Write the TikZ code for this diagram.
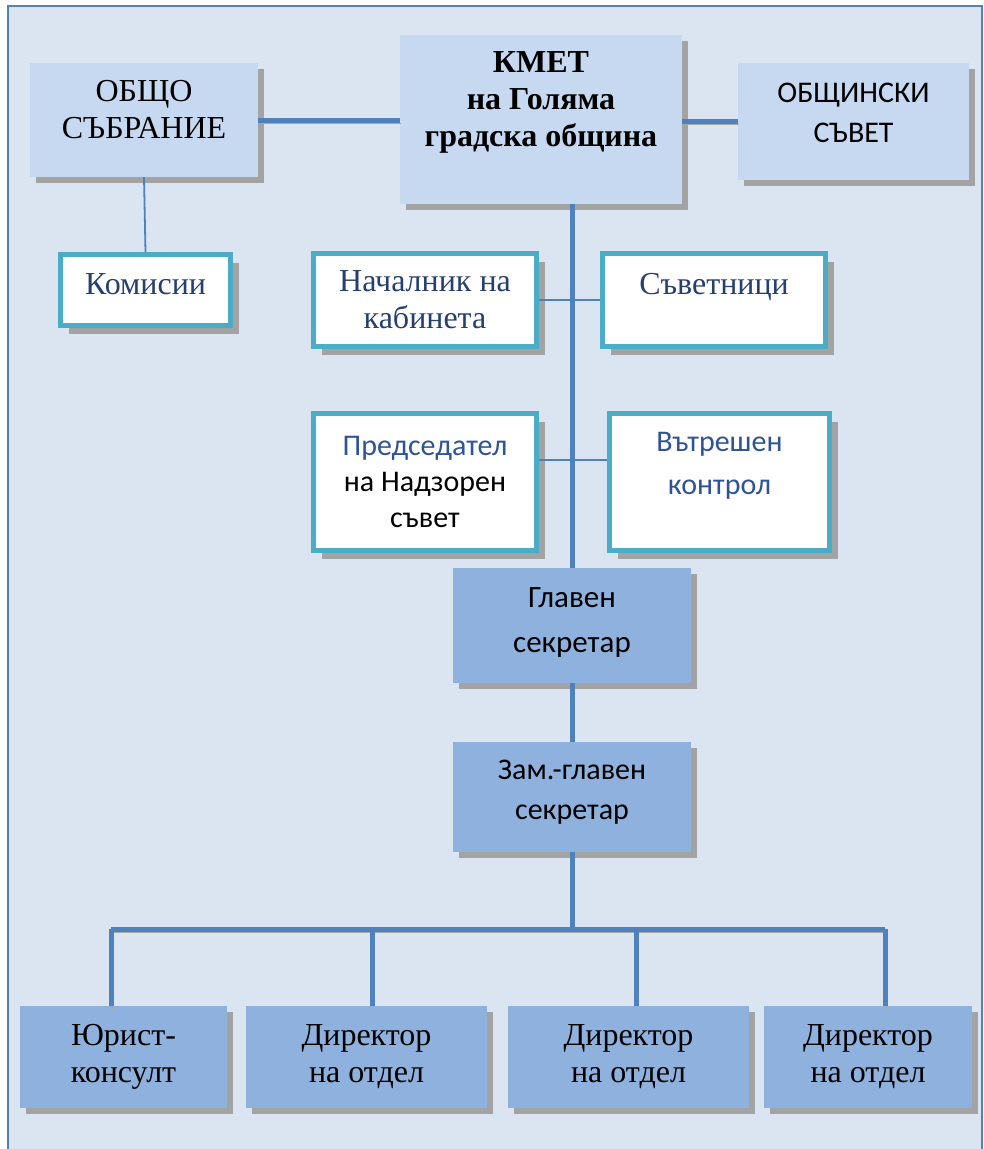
\documentclass[tikz,border=0pt]{standalone}
\usepackage{fontspec}
\setmainfont{Liberation Serif}
\newfontfamily\calibri{Carlito}
\usetikzlibrary{shadows}

\definecolor{framebg}{HTML}{DBE5F1}
\definecolor{lineblue}{HTML}{4F81BD}
\definecolor{topfill}{HTML}{C6D9F0}
\definecolor{lowfill}{HTML}{8EB2DD}
\definecolor{tealedge}{HTML}{4BACC6}
\definecolor{darktext}{HTML}{243F70}
\definecolor{midtext}{HTML}{2F5496}

\tikzset{
  boxshadow/.style={drop shadow={shadow xshift=#1,shadow yshift=-#1,fill=black!36,opacity=1}},
  boxshadow/.default=6pt,
  topbox/.style={fill=topfill,boxshadow,inner sep=0pt},
  lowbox/.style={fill=lowfill,boxshadow,inner sep=0pt},
  whitebox/.style={fill=white,draw=tealedge,line width=5pt,boxshadow=8pt,inner sep=0pt},
  seriftxt/.style={align=center,font=\fontsize{32}{37}\selectfont},
  sanstxt/.style={align=center,font=\calibri\fontsize{30}{40}\selectfont},
  conn/.style={draw=lineblue,line width=5pt,
    preaction={draw=black!34,transform canvas={xshift=1pt,yshift=-3pt}}},
  thinconn/.style={draw=lineblue,line width=1.8pt},
}

\begin{document}
\begin{tikzpicture}[x=1pt,y=-1pt]
    \useasboundingbox (0,0) rectangle (984,1149);
    \draw[fill=framebg,draw=lineblue,line width=2.5pt] (8,6) rectangle (982,1170);

    % top row
    \node[topbox,minimum width=228,minimum height=114] (obshto) at (144,120) {};
    \node[seriftxt] (obshto-t) at ([yshift=10pt]obshto.center) {ОБЩО\\СЪБРАНИЕ};
    \node[topbox,minimum width=282,minimum height=169] (kmet) at (541,119.5) {};
    \node[seriftxt,font=\bfseries\fontsize{32}{37}\selectfont] (kmet-t)
        at ([yshift=17pt]kmet.center) {КМЕТ\\на Голяма\\градска община};
    \node[topbox,minimum width=231,minimum height=117] (savet) at (853.5,121.5) {};
    \node[sanstxt] (savet-t) at ([yshift=9pt]savet.center) {ОБЩИНСКИ\\СЪВЕТ};

    % white boxes
    \node[whitebox,minimum width=170,minimum height=71] (komisii) at (145.5,290) {};
    \node[seriftxt,text=darktext] (komisii-t) at ([yshift=6pt]komisii.center) {Комисии};
    \node[whitebox,minimum width=223,minimum height=93] (nach) at (425,300) {};
    \node[seriftxt,text=darktext] (nach-t) at (nach.center) {Началник на\\кабинета};
    \node[whitebox,minimum width=223,minimum height=93] (savetnici) at (714,300) {};
    \node[seriftxt,text=darktext] (savetnici-t) at ([yshift=13pt]savetnici.center) {Съветници};
    \node[whitebox,minimum width=223,minimum height=137] (pred) at (425,482) {};
    \node[sanstxt,font=\calibri\fontsize{30}{36}\selectfont] (pred-t) at (pred.center)
        {\textcolor{midtext}{Председател}\\на Надзорен\\съвет};
    \node[whitebox,minimum width=220,minimum height=137] (vatr) at (719.5,482) {};
    \node[sanstxt,text=midtext,font=\calibri\fontsize{30}{43}\selectfont] (vatr-t)
        at ([yshift=16pt]vatr.center) {Вътрешен\\контрол};

    % secretaries
    \node[lowbox,minimum width=238,minimum height=115] (glaven) at (572,625.5) {};
    \node[sanstxt,font=\calibri\fontsize{31}{45}\selectfont] (glaven-t)
        at ([yshift=3pt]glaven.center) {Главен\\секретар};
    \node[lowbox,minimum width=238,minimum height=110] (zam) at (572,797) {};
    \node[sanstxt] (zam-t) at ([yshift=5pt]zam.center) {Зам.-главен\\секретар};

    % bottom row
    \node[lowbox,minimum width=207,minimum height=102] (yurist) at (123.5,1057) {};
    \node[seriftxt] (yurist-t) at (yurist.center) {Юрист-\\консулт};
    \node[lowbox,minimum width=241,minimum height=102] (dir1) at (366.5,1057) {};
    \node[seriftxt] (dir1-t) at (dir1.center) {Директор\\на отдел};
    \node[lowbox,minimum width=241,minimum height=102] (dir2) at (628.5,1057) {};
    \node[seriftxt] (dir2-t) at (dir2.center) {Директор\\на отдел};
    \node[lowbox,minimum width=208,minimum height=102] (dir3) at (868,1057) {};
    \node[seriftxt] (dir3-t) at (dir3.center) {Директор\\на отдел};

    % connectors
    \draw[conn] (obshto.east) -- (obshto.east -| kmet.west);
    \draw[conn] (savet.west -| kmet.east) -- (savet.west);
    \draw[thinconn] (obshto.south) -- (komisii.north);
    \draw[thinconn] (nach.east) -- (savetnici.west);
    \draw[thinconn] ([yshift=22pt]pred.east) -- ([yshift=22pt]vatr.west);
    \draw[conn] (glaven.north |- kmet.south) -- (glaven.north);
    \draw[conn] (glaven.south) -- (zam.north);

    \coordinate (bus1) at (111,929);
    \coordinate (bus2) at (372,929);
    \coordinate (bus3) at (636,929);
    \coordinate (bus4) at (885,929);
    \draw[conn] (zam.south) -- (zam.south |- bus1);
    \draw[conn] (bus1) -- (bus4);
    \draw[conn] (bus1) -- (bus1 |- yurist.north);
    \draw[conn] (bus2) -- (bus2 |- dir1.north);
    \draw[conn] (bus3) -- (bus3 |- dir2.north);
    \draw[conn] (bus4) -- (bus4 |- dir3.north);
\end{tikzpicture}
\end{document}
